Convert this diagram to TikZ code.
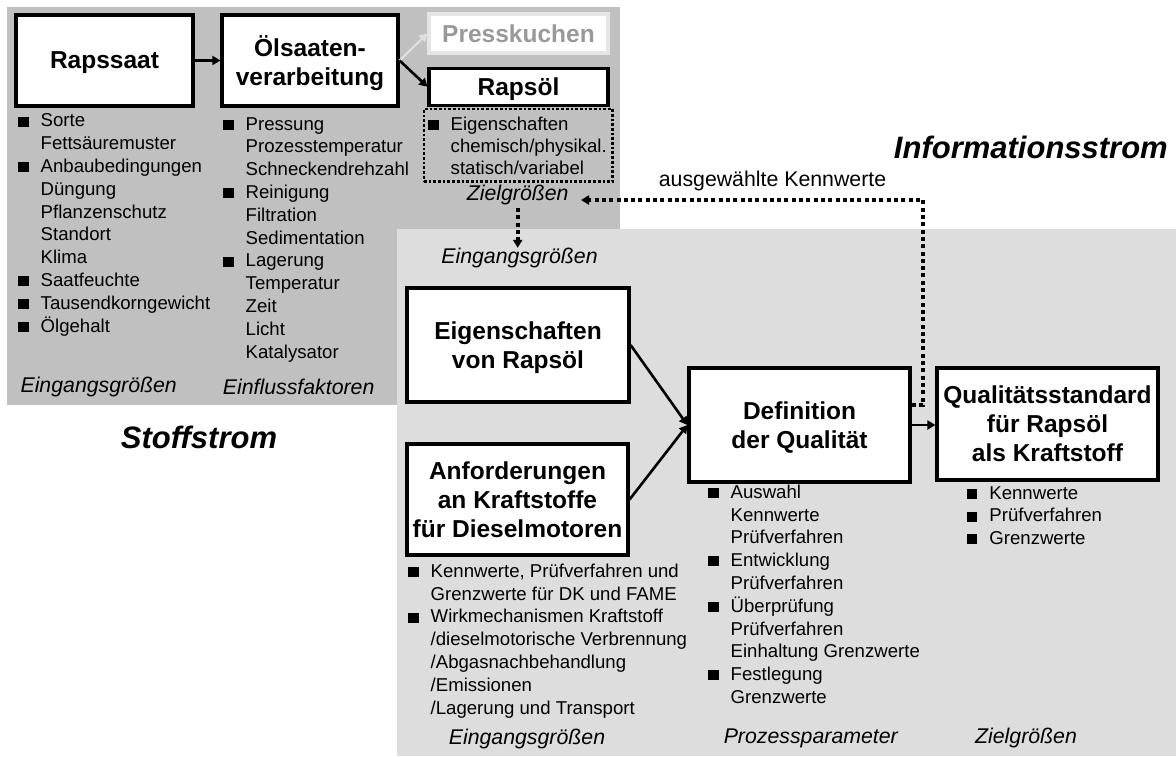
\documentclass[tikz,border=0pt]{standalone}
\usepackage{fontspec}
\setmainfont{Liberation Sans}
\usetikzlibrary{arrows.meta,positioning}
\definecolor{dunkelgrau}{RGB}{192,192,192}
\definecolor{hellgrau}{RGB}{221,221,221}
\newcommand{\bl}{\makebox[22.5pt][l]{\rule[0.3pt]{10.5pt}{10pt}}}
\newcommand{\nb}{\hspace*{22.5pt}}

\begin{document}
\begin{tikzpicture}[x=1pt,y=-1pt,>={Triangle[length=8pt,width=9pt]}]
  \tikzstyle{box}=[rectangle,draw=black,line width=3.2pt,fill=white,align=center,
                   inner sep=0pt,text depth=0pt,font=\fontsize{24.5}{29}\selectfont\bfseries]
  \tikzstyle{liste}=[align=left,inner sep=0pt,anchor=base west,
                     font=\fontsize{18.6}{22.8}\selectfont]
  \tikzstyle{etikett}=[inner sep=0pt,font=\fontsize{21.3}{25}\selectfont\itshape]
  \tikzstyle{strom}=[inner sep=0pt,font=\fontsize{31}{36}\selectfont\bfseries\itshape]
  \tikzstyle{fluss}=[->,line width=2.6pt]
  \tikzstyle{info}=[->,line width=4pt,dash pattern=on 4pt off 3.3pt]
  \useasboundingbox (0,0) rectangle (1176,756);
  % Hintergruende
  \fill[dunkelgrau] (7,7) rectangle (620,405);
  \fill[hellgrau] (397,229) rectangle (1176,756);
  % Stoffstrom
  \node[box,minimum width=177pt,minimum height=91pt] (saat) at (104.5,60.5) {Rapssaat};
  \node[box,minimum width=176pt,minimum height=91pt] (verarb) at (310,60.5) {Ölsaaten-\\verarbeitung};
  \node[box,draw=black!10,text=black!40,minimum width=179pt,minimum height=39pt] (kuchen) at (518.5,33.5) {Presskuchen};
  \node[box,minimum width=179pt,minimum height=37pt] (oel) at (518.5,86.7) {Rapsöl};
  \node[draw,line width=2.7pt,dash pattern=on 2.7pt off 2pt,minimum width=188.7pt,
        minimum height=72.7pt,inner sep=0pt] (eigrahmen) at (518.3,145.3) {};
  \draw[fluss] (saat) -- (verarb);
  \draw[->,line width=2pt,black!12] (verarb.east) -- (kuchen.west);
  \draw[fluss] (verarb.east) -- (oel.west);
  % Listen: base = letzte Zeile
  \node[liste] (lsaat) at (18,332) {\bl Sorte\\\nb Fettsäuremuster\\\bl Anbaubedingungen\\
    \nb Düngung\\\nb Pflanzenschutz\\\nb Standort\\\nb Klima\\\bl Saatfeuchte\\
    \bl Tausendkorngewicht\\\bl Ölgehalt};
  \node[liste] (lverarb) at (223,358) {\bl Pressung\\\nb Prozesstemperatur\\\nb Schneckendrehzahl\\
    \bl Reinigung\\\nb Filtration\\\nb Sedimentation\\\bl Lagerung\\\nb Temperatur\\
    \nb Zeit\\\nb Licht\\\nb Katalysator};
  \node[liste,font=\fontsize{18.6}{22}\selectfont] (loel) at (428,174.7) {\bl Eigenschaften\\
    \nb chemisch/physikal.\\\nb statisch/variabel};
  \node[etikett] (ein1) at (98.7,386.7) {Eingangsgrößen};
  \node[etikett,anchor=west] (einfl) at (222.7,386.7) {Einflussfaktoren};
  \node[etikett] (ziel1) at (517.7,195) {Zielgrößen};
  \node[strom] (stoff) at (199,437) {Stoffstrom};
  % Informationsstrom
  \node[strom,anchor=east] (inform) at (1168,147) {Informationsstrom};
  \node[inner sep=0pt,font=\fontsize{21.3}{25}\selectfont] (kennw) at (772.5,181) {ausgewählte Kennwerte};
  \node[etikett] (ein2) at (519.5,258) {Eingangsgrößen};
  \node[box,minimum width=222pt,minimum height=114pt] (eig) at (518,345) {Eigenschaften\\von Rapsöl};
  \node[box,minimum width=221pt,minimum height=111pt] (anf) at (517.5,499.5) {Anforderungen\\an Kraftstoffe\\für Dieselmotoren};
  \node[box,minimum width=221pt,minimum height=114pt] (def) at (799.5,425) {Definition\\der Qualität};
  \node[box,minimum width=221pt,minimum height=112pt] (std) at (1047.5,424) {Qualitätsstandard\\für Rapsöl\\als Kraftstoff};
  \draw[fluss] (eig.east) -- (def.west);
  \draw[fluss] (anf.east) -- (def.west);
  \draw[fluss] (def.east) -- (std.west |- def.east);
  \coordinate (ecke) at (922.7,200);
  \coordinate (zielspitze) at (581,200);
  \draw[info] ([yshift=20pt]def.east) -| (ecke) -- (zielspitze);
  \draw[info] ([yshift=-3pt]ziel1.south) -- (ziel1.south |- ein2.north);
  \node[liste] (lanf) at (408,714) {\bl Kennwerte, Prüfverfahren und\\\nb Grenzwerte für DK und FAME\\
    \bl Wirkmechanismen Kraftstoff\\\nb /dieselmotorische Verbrennung\\\nb /Abgasnachbehandlung\\
    \nb /Emissionen\\\nb /Lagerung und Transport};
  \node[liste] (ldef) at (708,703.4) {\bl Auswahl\\\nb Kennwerte\\\nb Prüfverfahren\\
    \bl Entwicklung\\\nb Prüfverfahren\\\bl Überprüfung\\\nb Prüfverfahren\\
    \nb Einhaltung Grenzwerte\\\bl Festlegung\\\nb Grenzwerte};
  \node[liste] (lstd) at (966.7,544.7) {\bl Kennwerte\\\bl Prüfverfahren\\\bl Grenzwerte};
  \node[etikett] (ein3) at (527,739) {Eingangsgrößen};
  \node[etikett,anchor=east] (proz) at (898,738) {Prozessparameter};
  \node[etikett] (ziel2) at (1026,738) {Zielgrößen};
\end{tikzpicture}
\end{document}
